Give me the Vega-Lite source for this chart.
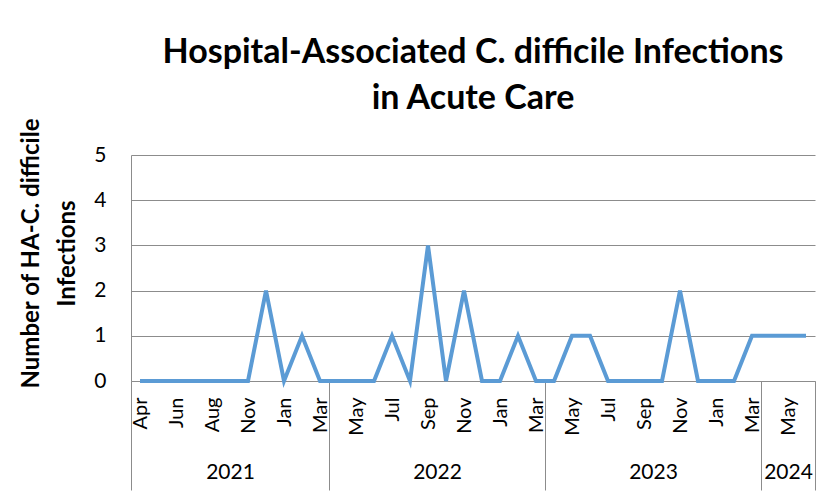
{
  "$schema": "https://vega.github.io/schema/vega-lite/v6.json",
  "width": 684,
  "height": 226,
  "padding": {"left": 19, "top": 35, "right": 5, "bottom": 5},
  "background": "white",
  "config": {
    "font": "Lato",
    "view": {"stroke": null},
    "axis": {"labelColor": "#000000", "titleColor": "#000000", "labelFont": "Lato", "titleFont": "Lato"},
    "axisY": {
      "titleFontSize": 24,
      "titleFontWeight": "bold",
      "titleLineHeight": 36,
      "titlePadding": 14,
      "titleY": 98,
      "values": [0, 1, 2, 3, 4, 5],
      "labelFontSize": 21,
      "labelPadding": 25,
      "ticks": false,
      "grid": true,
      "gridColor": "#8c8c8c",
      "gridWidth": 1,
      "domain": true,
      "domainColor": "#8c8c8c",
      "domainWidth": 1
    }
  },
  "title": {
    "text": ["Hospital-Associated C. difficile Infections", "in Acute Care"],
    "fontSize": 34,
    "fontWeight": "bold",
    "font": "Lato",
    "color": "#000000",
    "lineHeight": 46,
    "anchor": "middle",
    "offset": 2
  },
  "data": {
    "values": [
      {"idx": 0, "month": "Apr", "year": "2021", "count": 0},
      {"idx": 1, "month": "May", "year": "2021", "count": 0},
      {"idx": 2, "month": "Jun", "year": "2021", "count": 0},
      {"idx": 3, "month": "Jul", "year": "2021", "count": 0},
      {"idx": 4, "month": "Aug", "year": "2021", "count": 0},
      {"idx": 5, "month": "Oct", "year": "2021", "count": 0},
      {"idx": 6, "month": "Nov", "year": "2021", "count": 0},
      {"idx": 7, "month": "Dec", "year": "2021", "count": 2},
      {"idx": 8, "month": "Jan", "year": "2021", "count": 0},
      {"idx": 9, "month": "Feb", "year": "2021", "count": 1},
      {"idx": 10, "month": "Mar", "year": "2021", "count": 0},
      {"idx": 11, "month": "Apr", "year": "2022", "count": 0},
      {"idx": 12, "month": "May", "year": "2022", "count": 0},
      {"idx": 13, "month": "Jun", "year": "2022", "count": 0},
      {"idx": 14, "month": "Jul", "year": "2022", "count": 1},
      {"idx": 15, "month": "Aug", "year": "2022", "count": 0},
      {"idx": 16, "month": "Sep", "year": "2022", "count": 3},
      {"idx": 17, "month": "Oct", "year": "2022", "count": 0},
      {"idx": 18, "month": "Nov", "year": "2022", "count": 2},
      {"idx": 19, "month": "Dec", "year": "2022", "count": 0},
      {"idx": 20, "month": "Jan", "year": "2022", "count": 0},
      {"idx": 21, "month": "Feb", "year": "2022", "count": 1},
      {"idx": 22, "month": "Mar", "year": "2022", "count": 0},
      {"idx": 23, "month": "Apr", "year": "2023", "count": 0},
      {"idx": 24, "month": "May", "year": "2023", "count": 1},
      {"idx": 25, "month": "Jun", "year": "2023", "count": 1},
      {"idx": 26, "month": "Jul", "year": "2023", "count": 0},
      {"idx": 27, "month": "Aug", "year": "2023", "count": 0},
      {"idx": 28, "month": "Sep", "year": "2023", "count": 0},
      {"idx": 29, "month": "Oct", "year": "2023", "count": 0},
      {"idx": 30, "month": "Nov", "year": "2023", "count": 2},
      {"idx": 31, "month": "Dec", "year": "2023", "count": 0},
      {"idx": 32, "month": "Jan", "year": "2023", "count": 0},
      {"idx": 33, "month": "Feb", "year": "2023", "count": 0},
      {"idx": 34, "month": "Mar", "year": "2023", "count": 1},
      {"idx": 35, "month": "Apr", "year": "2024", "count": 1},
      {"idx": 36, "month": "May", "year": "2024", "count": 1},
      {"idx": 37, "month": "Jun", "year": "2024", "count": 1}
    ]
  },
  "layer": [
    {
      "mark": {"type": "line", "color": "#5B9BD5", "strokeWidth": 4},
      "encoding": {
        "x": {
          "field": "idx",
          "type": "quantitative",
          "scale": {"domain": [-0.5, 37.5], "nice": false, "zero": false},
          "axis": {
            "orient": "bottom",
            "title": null,
            "values": [0, 2, 4, 6, 8, 10, 12, 14, 16, 18, 20, 22, 24, 26, 28, 30, 32, 34, 36],
            "labelExpr": "['Apr','Jun','Aug','Nov','Jan','Mar','May','Jul','Sep','Nov','Jan','Mar','May','Jul','Sep','Nov','Jan','Mar','May'][datum.value / 2]",
            "labelAngle": 270,
            "labelAlign": "right",
            "labelBaseline": "middle",
            "labelFontSize": 20,
            "labelPadding": 16,
            "labelOverlap": false,
            "labelFlush": false,
            "ticks": false,
            "grid": false,
            "domain": true,
            "domainColor": "#8c8c8c",
            "domainWidth": 1
          }
        },
        "y": {
          "field": "count",
          "type": "quantitative",
          "scale": {"domain": [0, 5], "nice": false},
          "axis": {"title": ["Number of HA-C. difficile", "Infections"]}
        }
      }
    },
    {
      "mark": {"type": "line", "opacity": 0},
      "encoding": {
        "x": {
          "field": "idx",
          "type": "quantitative",
          "axis": {
            "orient": "bottom",
            "title": null,
            "values": [5, 16.5, 28.5, 36],
            "labelExpr": "datum.value == 5 ? '2021' : datum.value == 16.5 ? '2022' : datum.value == 28.5 ? '2023' : '2024'",
            "labelAngle": 0,
            "labelAlign": "center",
            "labelBaseline": "top",
            "labelFontSize": 21,
            "labelPadding": 80,
            "labelOverlap": false,
            "labelFlush": false,
            "ticks": false,
            "grid": false,
            "domain": false
          }
        },
        "y": {
          "field": "count",
          "type": "quantitative",
          "axis": {"title": ["Number of HA-C. difficile", "Infections"]}
        }
      }
    },
    {
      "mark": {"type": "line", "opacity": 0},
      "encoding": {
        "x": {
          "field": "idx",
          "type": "quantitative",
          "axis": {
            "orient": "bottom",
            "title": null,
            "values": [-0.5, 10.5, 22.5, 34.5, 37.5],
            "labels": false,
            "ticks": true,
            "tickSize": 109,
            "tickColor": "#8c8c8c",
            "tickWidth": 1,
            "grid": false,
            "domain": false
          }
        },
        "y": {
          "field": "count",
          "type": "quantitative",
          "axis": {"title": ["Number of HA-C. difficile", "Infections"]}
        }
      }
    }
  ],
  "resolve": {"axis": {"x": "independent", "y": "shared"}}
}
